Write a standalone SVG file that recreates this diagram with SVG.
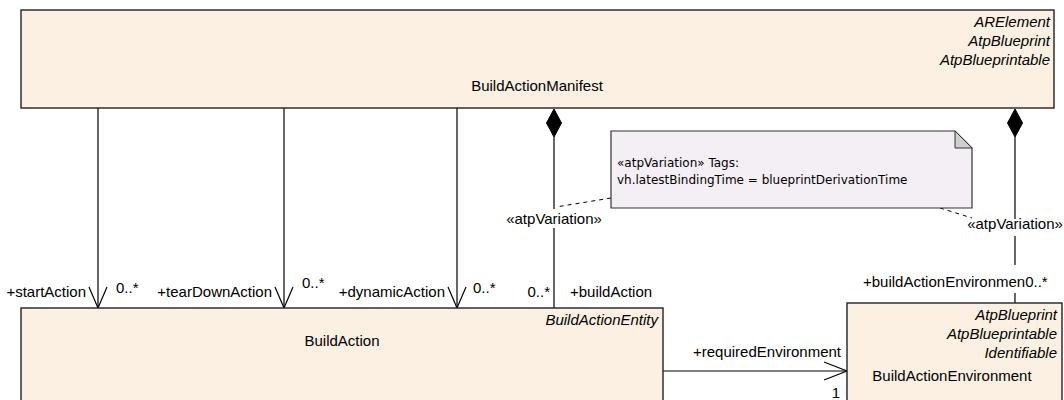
<svg xmlns="http://www.w3.org/2000/svg" width="1064" height="400" viewBox="0 0 1064 400">
<style>
  .box{fill:#FBF0E1;stroke:#222;stroke-width:1.4}
  .t{font-family:"Liberation Sans",Arial,sans-serif;font-size:15px;fill:#000}
  .i{font-style:italic}
  .e{text-anchor:end}
  .m{text-anchor:middle}
  .ln{stroke:#000;stroke-width:1.2;fill:none}
  .dash{stroke:#000;stroke-width:1;stroke-dasharray:4,4;fill:none}
  .dia{fill:#000;stroke:#000;stroke-width:1}
  .bg{fill:#fff}
  .note{fill:#F4EFF4;stroke:#333;stroke-width:1.2}
  .nt{font-family:"DejaVu Sans",sans-serif;font-size:12px;fill:#000}
</style>
<rect width="1064" height="400" fill="#fff"/>

<g id="connectors">
  <!-- startAction -->
  <line class="ln" x1="98" y1="108" x2="98" y2="308"/>
  <polyline class="ln" points="89,287 98,308 107,287"/>
  <!-- tearDownAction -->
  <line class="ln" x1="284" y1="108" x2="284" y2="308"/>
  <polyline class="ln" points="275,287 284,308 293,287"/>
  <!-- dynamicAction -->
  <line class="ln" x1="457" y1="108" x2="457" y2="308"/>
  <polyline class="ln" points="448,287 457,308 466,287"/>
  <!-- buildAction composition -->
  <line class="ln" x1="554" y1="137" x2="554" y2="308"/>
  <polygon class="dia" points="554,109 561.5,123 554,137 546.5,123"/>
  <!-- buildActionEnvironment composition -->
  <line class="ln" x1="1015" y1="137" x2="1015" y2="303"/>
  <polygon class="dia" points="1015,109 1022.5,123 1015,137 1007.5,123"/>
  <!-- requiredEnvironment -->
  <line class="ln" x1="663" y1="371" x2="847" y2="371"/>
  <polyline class="ln" points="824,362 847,371 824,380"/>
  <!-- note anchors -->
  <line class="dash" x1="611" y1="198" x2="556" y2="207"/>
  <line class="dash" x1="940" y1="208" x2="972" y2="218"/>

  <!-- labels -->
  <text class="t e" x="86" y="297">+startAction</text>
  <text class="t" x="116" y="293">0..*</text>
  <text class="t e" x="272" y="297">+tearDownAction</text>
  <text class="t" x="302" y="288">0..*</text>
  <text class="t e" x="445" y="297">+dynamicAction</text>
  <text class="t" x="473" y="293">0..*</text>
  <text class="t e" x="550" y="297">0..*</text>
  <text class="t" x="570" y="297">+buildAction</text>

  <rect class="bg" x="505" y="209" width="99" height="19"/>
  <text class="t m" x="554" y="224">«atpVariation»</text>
  <rect class="bg" x="965" y="219" width="99" height="17"/>
  <text class="t m" x="1015" y="229">«atpVariation»</text>
  <rect class="bg" x="862" y="265" width="190" height="28"/>
  <text class="t" x="863" y="287">+buildActionEnvironmen0..*</text>

  <text class="t" x="693" y="357">+requiredEnvironment</text>
  <text class="t e" x="840" y="398">1</text>
</g>

<g id="BuildActionManifest">
  <rect class="box" x="21" y="10" width="1033" height="98"/>
  <text class="t i e" x="1050" y="27">ARElement</text>
  <text class="t i e" x="1050" y="46">AtpBlueprint</text>
  <text class="t i e" x="1050" y="65">AtpBlueprintable</text>
  <text class="t m" x="537" y="91">BuildActionManifest</text>
</g>

<g id="BuildAction">
  <rect class="box" x="21" y="308" width="642" height="100"/>
  <text class="t i e" x="658" y="325">BuildActionEntity</text>
  <text class="t m" x="342" y="346">BuildAction</text>
</g>

<g id="BuildActionEnvironment">
  <rect class="box" x="847" y="303" width="215" height="105"/>
  <text class="t i e" x="1057" y="320">AtpBlueprint</text>
  <text class="t i e" x="1057" y="339">AtpBlueprintable</text>
  <text class="t i e" x="1057" y="358">Identifiable</text>
  <text class="t m" x="952" y="381">BuildActionEnvironment</text>
</g>

<g id="note">
  <polygon class="note" points="611,131 955,131 972,148 972,208 611,208"/>
  <polygon points="955,131 955,148 972,148" fill="#CFCFCF" stroke="#333" stroke-width="1"/>
  <text class="nt" x="617" y="167">«atpVariation» Tags:</text>
  <text class="nt" x="617" y="184">vh.latestBindingTime = blueprintDerivationTime</text>
</g>
</svg>
